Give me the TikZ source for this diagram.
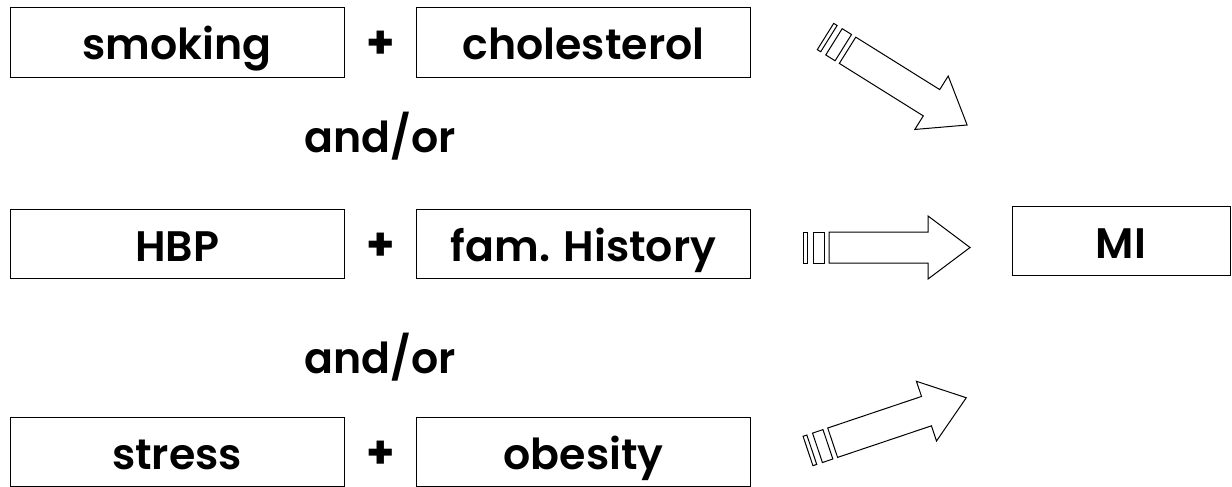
\documentclass[tikz,border=0pt]{standalone}
\usepackage{fontspec}
\setmainfont{Poppins}[BoldFont={Poppins SemiBold}]
\newfontfamily\plusfont{Poppins Bold}
\tikzset{every picture/.style={line width=0.75pt}}
\tikzset{
  factor/.style={draw, minimum width=250.5pt, minimum height=52pt, inner sep=0pt, text height=26pt, text depth=0pt, font=\fontsize{32}{38}\selectfont\bfseries},
  sign/.style={inner sep=0pt, font=\fontsize{32}{38}\selectfont\bfseries},
  plus/.style={inner sep=0pt, yshift=-2pt, font=\fontsize{34}{38}\selectfont\plusfont}
}
\newcommand{\blockarrow}{%
  \draw (0,-15.5) rectangle (4,15.5);
  \draw (10,-15.5) rectangle (21,15.5);
  \draw (26,-15.5) -- (125,-15.5) -- (125,-31.5) -- (167,0) -- (125,31.5) -- (125,15.5) -- (26,15.5) -- cycle;
}

\begin{document}
\begin{tikzpicture}[x=0.75pt,y=0.75pt,yscale=-1,xscale=1]
\useasboundingbox (0,0) rectangle (1232,486);

% Text Node
\node[factor] (smoking) at (177,42.5) {smoking};
% Text Node
\node[plus] (plusA) at (381,42.5) {+};
% Text Node
\node[factor] (cholesterol) at (583.5,42.5) {cholesterol};
% Text Node
\node[sign, anchor=base] (orA) at (380,152.7) {and/or};
% Text Node
\node[factor] (hbp) at (177,244) {HBP};
% Text Node
\node[plus] (plusB) at (381,244) {+};
% Text Node
\node[factor] (famhist) at (583.5,244) {fam. History};
% Text Node
\node[sign, anchor=base] (orB) at (380,373) {and/or};
% Text Node
\node[factor] (stress) at (177,452) {stress};
% Text Node
\node[plus] (plusC) at (381,452) {+};
% Text Node
\node[factor] (obesity) at (583.5,452) {obesity};
% Text Node
\node[factor, minimum width=163.5pt] (mi) at (1121,241) {MI};

%Shape: Block Arrows
\begin{scope}[shift={(825.5,36.5)}, rotate=32]
\blockarrow
\end{scope}
\begin{scope}[shift={(803,247.5)}]
\blockarrow
\end{scope}
\begin{scope}[shift={(808,451)}, rotate=-18.6]
\blockarrow
\end{scope}

\end{tikzpicture}
\end{document}
